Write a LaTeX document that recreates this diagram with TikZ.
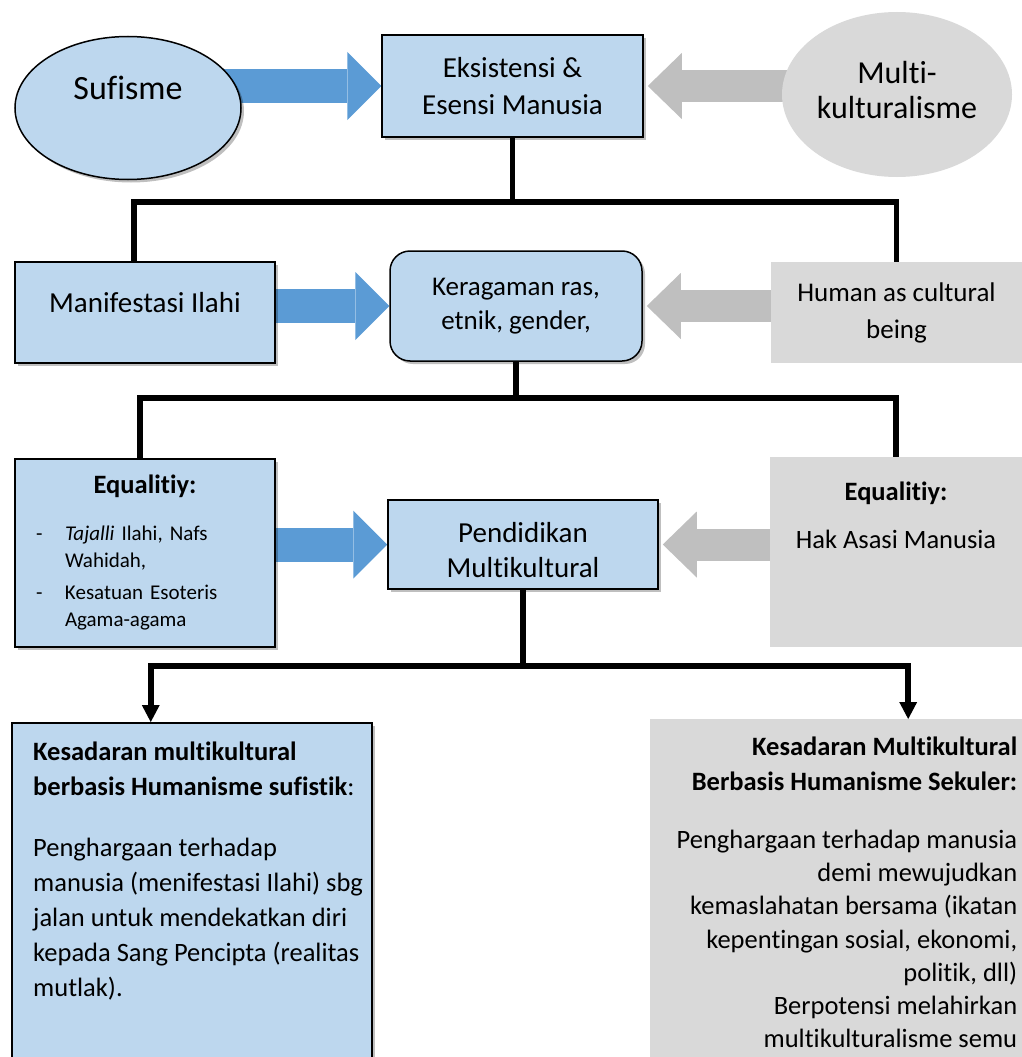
\documentclass[tikz,border=0pt]{standalone}
\usepackage{fontspec}
\setmainfont{Carlito}[Ligatures=NoCommon]
\usetikzlibrary{positioning, shapes.geometric, arrows.meta, shadows, backgrounds, calc}

\definecolor{boxblue}{HTML}{BDD7EE}
\definecolor{boxgray}{HTML}{D9D9D9}
\definecolor{arrowblue}{HTML}{5B9BD5}
\definecolor{arrowgray}{HTML}{BFBFBF}

\newcommand{\fsize}[2]{\fontsize{#1}{#2}\selectfont}

\tikzset{
  bluebox/.style={draw=black, line width=1.5pt, fill=boxblue, align=center,
    drop shadow={shadow xshift=3pt, shadow yshift=-3pt, fill=black, opacity=0.25}},
  graybox/.style={fill=boxgray, align=center},
  bus/.style={line width=5.5pt},
  busarrow/.style={bus, -{Triangle[width=18pt, length=17pt, line width=0pt]}},
  fatblue/.style={line width=34pt, draw=arrowblue, -{Triangle[width=68pt, length=34pt, line width=0pt]}},
  fatgray/.style={line width=32pt, draw=arrowgray, -{Triangle[width=66pt, length=34pt, line width=0pt]}, shorten >=4pt}
}

\begin{document}
\begin{tikzpicture}[x=1pt, y=-1pt]
      \useasboundingbox (0,0) rectangle (1022,1057);

      \node[bluebox, ellipse, minimum width=226pt, minimum height=143pt, inner sep=0pt,
        label={[font=\fsize{34}{40}, yshift=20pt]center:Sufisme}] (suf) at (128,108) {};
      \node[bluebox, minimum width=261pt, minimum height=102pt, font=\fsize{29}{37}] (eks) at (512.5,86) {Eksistensi \&\\Esensi Manusia};
      \node[graybox, ellipse, minimum width=230pt, minimum height=165pt, inner sep=0pt, font=\fsize{32}{35}] (mul) at (897,94.5) {\raisebox{4pt}[\height][\depth]{Multi-}\\\raisebox{4pt}[\height][\depth]{kulturalisme}};

      \node[bluebox, minimum width=260pt, minimum height=101pt, font=\fsize{29}{37}] (man) at (145,312.5) {\raisebox{10pt}[\height][\depth]{Manifestasi Ilahi}};
      \node[bluebox, rounded corners=20pt, minimum width=252pt, minimum height=110pt, font=\fsize{27}{34}] (ker) at (516,306) {Keragaman ras,\\etnik, gender,};
      \node[graybox, minimum width=251pt, minimum height=101pt, font=\fsize{27}{37}] (hum) at (896.5,312.5) {Human as cultural\\being};

      \node[bluebox, minimum width=260pt, minimum height=188pt, text width=218pt, font=\fsize{21}{27}] (eql) at (145,553)
        {{\fsize{26.5}{27}\bfseries Equalitiy:}\\[20pt]
         \makebox[218pt][l]{\makebox[29pt][l]{-}\textit{Tajalli} Ilahi, Nafs}\\
         \makebox[218pt][l]{\hspace{29pt}Wahidah,}\\[5pt]
         \makebox[218pt][l]{\makebox[29pt][l]{-}Kesatuan Esoteris}\\
         \makebox[218pt][l]{\hspace{29pt}Agama-agama}};
      \node[bluebox, minimum width=270pt, minimum height=89pt, font=\fsize{29}{35}] (pen) at (523,544.5) {\raisebox{-6pt}[\height][\depth]{Pendidikan}\\\raisebox{-6pt}[\height][\depth]{Multikultural}};
      \node[graybox, minimum width=252pt, minimum height=190pt,
        label={[anchor=north, yshift=-25pt, inner sep=0pt, align=center, font=\fsize{26.5}{48}]north:{\textbf{Equalitiy:}\\Hak Asasi Manusia}}] (eqr) at (896,552) {};

      \node[bluebox, anchor=north west, minimum width=360pt, minimum height=360pt,
        label={[anchor=north west, xshift=22pt, yshift=-19.5pt, inner sep=0pt, text width=345pt, align=flush left, font=\fsize{26.5}{35}]north west:{%
          \textbf{Kesadaran multikultural}\\
          \textbf{berbasis Humanisme sufistik}:\\[26pt]
          Penghargaan terhadap\\
          manusia (menifestasi Ilahi) sbg\\
          jalan untuk mendekatkan diri\\
          kepada Sang Pencipta (realitas\\
          mutlak).}}] (kl) at (11,722) {};
      \node[graybox, anchor=north west, minimum width=372pt, minimum height=360pt,
        label={[anchor=north east, xshift=-5pt, yshift=-17.5pt, inner sep=0pt, text width=365pt, align=flush right, font=\fsize{26.5}{33.2}]north east:{%
          \textbf{Kesadaran Multikultural}\\[1.8pt]
          \textbf{Berbasis Humanisme Sekuler:}\\[25pt]
          Penghargaan terhadap manusia\\
          demi mewujudkan\\
          kemaslahatan bersama (ikatan\\
          kepentingan sosial, ekonomi,\\
          politik, dll)\\
          Berpotensi melahirkan\\
          multikulturalisme semu}}] (kr) at (650,719) {};

      \begin{scope}[on background layer]
        \draw[fatblue] (suf.center |- eks.west) -- (eks.west);
        \draw[fatgray] (mul.center |- eks.east) -- (eks.east);
        \draw[fatblue] (man.center |- ker.west) -- (ker.west);
        \draw[fatgray] (hum.center |- ker.east) -- (ker.east);
        \draw[fatblue] (eql.center |- pen.west) -- (pen.west);
        \draw[fatgray] (eqr.center |- pen.east) -- (pen.east);
      \end{scope}

      \coordinate (bus1) at ($(eks.south)+(0,64)$);
      \coordinate (bus2) at ($(ker.south)+(0,36)$);
      \coordinate (bus3) at ($(pen.south)+(0,76)$);

      \draw[bus] (eks.south) -- (bus1);
      \draw[bus] ([xshift=-11pt]man.north) |- (bus1) -| (hum.north);

      \draw[bus] (ker.south) -- (bus2);
      \draw[bus] ([xshift=-5pt]eql.north) |- (bus2) -| (eqr.north);

      \draw[bus] (pen.south) -- (bus3);
      \draw[busarrow] (bus3) -| ([xshift=-41pt]kl.north);
      \draw[busarrow] (bus3) -| ([xshift=72pt]kr.north);
\end{tikzpicture}
\end{document}
